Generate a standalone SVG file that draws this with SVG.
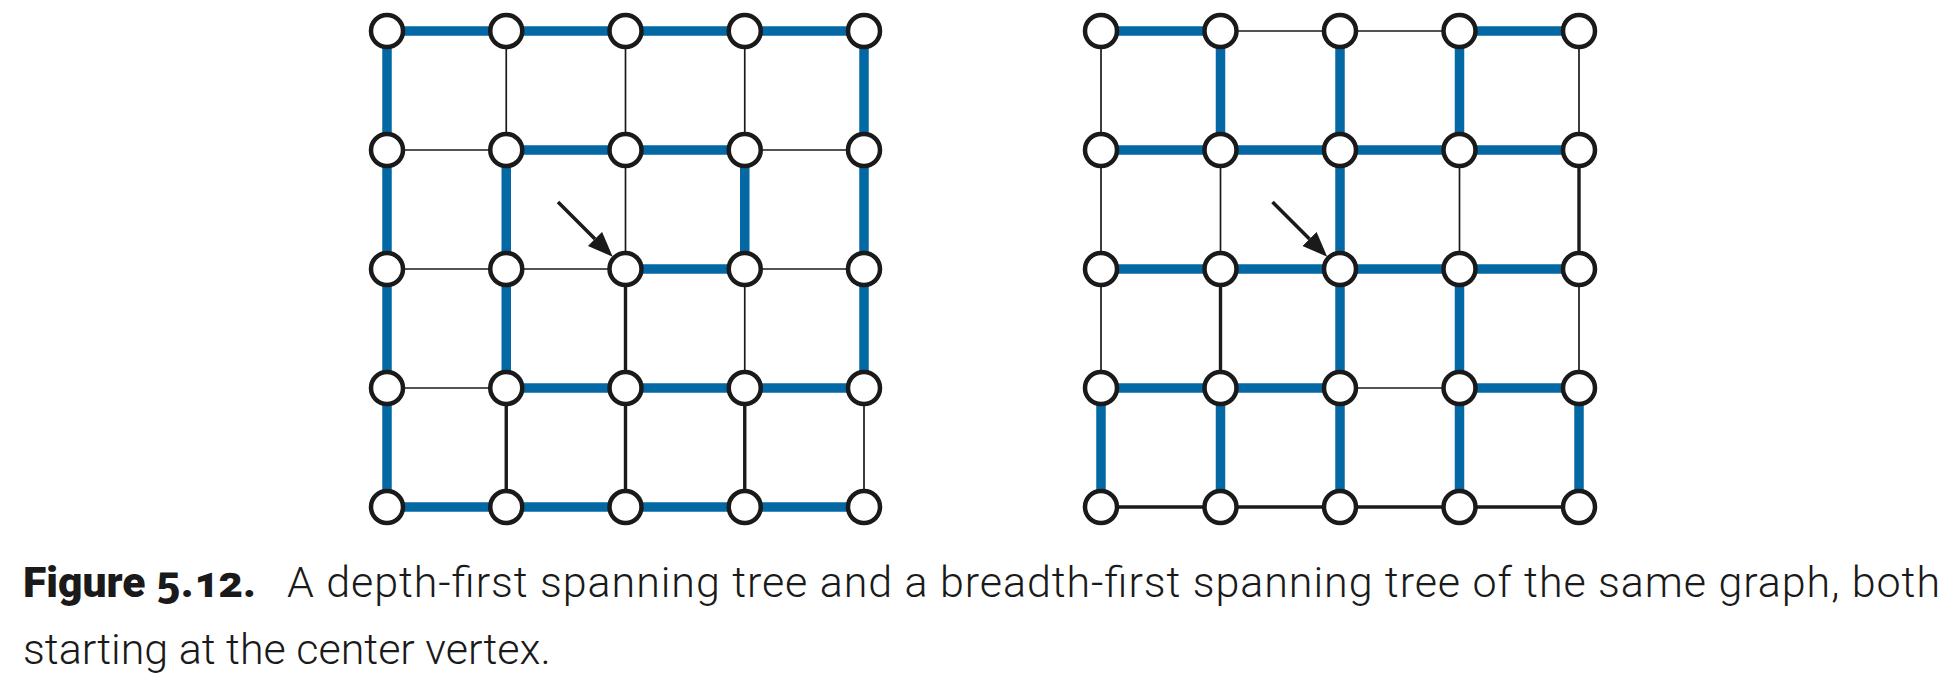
<svg xmlns="http://www.w3.org/2000/svg" width="1956" height="680" viewBox="0 0 1956 680">
<style>
.b{stroke:#0368a4;stroke-width:9.5;fill:none}
.t{stroke:#1a1a1a;stroke-width:1.7;fill:none}
.m{stroke:#1a1a1a;stroke-width:3.4;fill:none}
.n{fill:#ffffff;stroke:#1a1a1a;stroke-width:4.5}
.arr{stroke:#1a1a1a;stroke-width:3.5;fill:none}
.cap{font-family:Roboto,"Liberation Sans",sans-serif;font-size:43px;fill:#1a1a1a}
.capb{font-weight:900;font-variant-numeric:oldstyle-nums}
.capl{font-weight:300}
</style>
<defs>
<marker id="ah" markerUnits="userSpaceOnUse" markerWidth="26" markerHeight="22" refX="0" refY="10" orient="auto">
<path d="M0,0 L25,10 L0,20 z" fill="#1a1a1a"/>
</marker>
</defs>
<rect width="1956" height="680" fill="#ffffff"/>
<g id="connectors">
<!-- left grid horizontal -->
<line class="b" x1="387" y1="31" x2="864" y2="31"/>
<line class="t" x1="387" y1="150" x2="506.25" y2="150"/>
<line class="b" x1="506.25" y1="150" x2="744.75" y2="150"/>
<line class="t" x1="744.75" y1="150" x2="864" y2="150"/>
<line class="t" x1="387" y1="269" x2="625.5" y2="269"/>
<line class="b" x1="625.5" y1="269" x2="744.75" y2="269"/>
<line class="t" x1="744.75" y1="269" x2="864" y2="269"/>
<line class="t" x1="387" y1="388" x2="506.25" y2="388"/>
<line class="b" x1="506.25" y1="388" x2="864" y2="388"/>
<line class="b" x1="387" y1="507" x2="864" y2="507"/>
<!-- left grid vertical -->
<line class="b" x1="387" y1="31" x2="387" y2="507"/>
<line class="t" x1="506.25" y1="31" x2="506.25" y2="150"/>
<line class="b" x1="506.25" y1="150" x2="506.25" y2="388"/>
<line class="m" x1="506.25" y1="388" x2="506.25" y2="507"/>
<line class="t" x1="625.5" y1="31" x2="625.5" y2="269"/>
<line class="m" x1="625.5" y1="269" x2="625.5" y2="507"/>
<line class="t" x1="744.75" y1="31" x2="744.75" y2="150"/>
<line class="b" x1="744.75" y1="150" x2="744.75" y2="269"/>
<line class="t" x1="744.75" y1="269" x2="744.75" y2="388"/>
<line class="m" x1="744.75" y1="388" x2="744.75" y2="507"/>
<line class="b" x1="864" y1="31" x2="864" y2="388"/>
<line class="t" x1="864" y1="388" x2="864" y2="507"/>
<!-- right grid horizontal -->
<line class="b" x1="1101" y1="31" x2="1220.5" y2="31"/>
<line class="t" x1="1220.5" y1="31" x2="1459.5" y2="31"/>
<line class="b" x1="1459.5" y1="31" x2="1579" y2="31"/>
<line class="b" x1="1101" y1="150" x2="1579" y2="150"/>
<line class="b" x1="1101" y1="269" x2="1579" y2="269"/>
<line class="b" x1="1101" y1="388" x2="1340" y2="388"/>
<line class="t" x1="1340" y1="388" x2="1459.5" y2="388"/>
<line class="b" x1="1459.5" y1="388" x2="1579" y2="388"/>
<line class="m" x1="1101" y1="507" x2="1579" y2="507"/>
<!-- right grid vertical -->
<line class="t" x1="1101" y1="31" x2="1101" y2="388"/>
<line class="b" x1="1101" y1="388" x2="1101" y2="507"/>
<line class="b" x1="1220.5" y1="31" x2="1220.5" y2="150"/>
<line class="t" x1="1220.5" y1="150" x2="1220.5" y2="269"/>
<line class="m" x1="1220.5" y1="269" x2="1220.5" y2="388"/>
<line class="b" x1="1220.5" y1="388" x2="1220.5" y2="507"/>
<line class="b" x1="1340" y1="31" x2="1340" y2="507"/>
<line class="b" x1="1459.5" y1="31" x2="1459.5" y2="150"/>
<line class="t" x1="1459.5" y1="150" x2="1459.5" y2="269"/>
<line class="b" x1="1459.5" y1="269" x2="1459.5" y2="507"/>
<line class="t" x1="1579" y1="31" x2="1579" y2="150"/>
<line class="m" x1="1579" y1="150" x2="1579" y2="269"/>
<line class="t" x1="1579" y1="269" x2="1579" y2="388"/>
<line class="b" x1="1579" y1="388" x2="1579" y2="507"/>
<!-- arrows -->
<line class="arr" x1="558" y1="202" x2="595" y2="239" marker-end="url(#ah)"/>
<line class="arr" x1="1272.5" y1="202" x2="1309.5" y2="239" marker-end="url(#ah)"/>
</g>
<g id="left-nodes">
<g id="L00"><circle class="n" cx="387" cy="31" r="16"/></g>
<g id="L01"><circle class="n" cx="506.25" cy="31" r="16"/></g>
<g id="L02"><circle class="n" cx="625.5" cy="31" r="16"/></g>
<g id="L03"><circle class="n" cx="744.75" cy="31" r="16"/></g>
<g id="L04"><circle class="n" cx="864" cy="31" r="16"/></g>
<g id="L10"><circle class="n" cx="387" cy="150" r="16"/></g>
<g id="L11"><circle class="n" cx="506.25" cy="150" r="16"/></g>
<g id="L12"><circle class="n" cx="625.5" cy="150" r="16"/></g>
<g id="L13"><circle class="n" cx="744.75" cy="150" r="16"/></g>
<g id="L14"><circle class="n" cx="864" cy="150" r="16"/></g>
<g id="L20"><circle class="n" cx="387" cy="269" r="16"/></g>
<g id="L21"><circle class="n" cx="506.25" cy="269" r="16"/></g>
<g id="L22"><circle class="n" cx="625.5" cy="269" r="16"/></g>
<g id="L23"><circle class="n" cx="744.75" cy="269" r="16"/></g>
<g id="L24"><circle class="n" cx="864" cy="269" r="16"/></g>
<g id="L30"><circle class="n" cx="387" cy="388" r="16"/></g>
<g id="L31"><circle class="n" cx="506.25" cy="388" r="16"/></g>
<g id="L32"><circle class="n" cx="625.5" cy="388" r="16"/></g>
<g id="L33"><circle class="n" cx="744.75" cy="388" r="16"/></g>
<g id="L34"><circle class="n" cx="864" cy="388" r="16"/></g>
<g id="L40"><circle class="n" cx="387" cy="507" r="16"/></g>
<g id="L41"><circle class="n" cx="506.25" cy="507" r="16"/></g>
<g id="L42"><circle class="n" cx="625.5" cy="507" r="16"/></g>
<g id="L43"><circle class="n" cx="744.75" cy="507" r="16"/></g>
<g id="L44"><circle class="n" cx="864" cy="507" r="16"/></g>
</g>
<g id="right-nodes">
<g id="R00"><circle class="n" cx="1101" cy="31" r="16"/></g>
<g id="R01"><circle class="n" cx="1220.5" cy="31" r="16"/></g>
<g id="R02"><circle class="n" cx="1340" cy="31" r="16"/></g>
<g id="R03"><circle class="n" cx="1459.5" cy="31" r="16"/></g>
<g id="R04"><circle class="n" cx="1579" cy="31" r="16"/></g>
<g id="R10"><circle class="n" cx="1101" cy="150" r="16"/></g>
<g id="R11"><circle class="n" cx="1220.5" cy="150" r="16"/></g>
<g id="R12"><circle class="n" cx="1340" cy="150" r="16"/></g>
<g id="R13"><circle class="n" cx="1459.5" cy="150" r="16"/></g>
<g id="R14"><circle class="n" cx="1579" cy="150" r="16"/></g>
<g id="R20"><circle class="n" cx="1101" cy="269" r="16"/></g>
<g id="R21"><circle class="n" cx="1220.5" cy="269" r="16"/></g>
<g id="R22"><circle class="n" cx="1340" cy="269" r="16"/></g>
<g id="R23"><circle class="n" cx="1459.5" cy="269" r="16"/></g>
<g id="R24"><circle class="n" cx="1579" cy="269" r="16"/></g>
<g id="R30"><circle class="n" cx="1101" cy="388" r="16"/></g>
<g id="R31"><circle class="n" cx="1220.5" cy="388" r="16"/></g>
<g id="R32"><circle class="n" cx="1340" cy="388" r="16"/></g>
<g id="R33"><circle class="n" cx="1459.5" cy="388" r="16"/></g>
<g id="R34"><circle class="n" cx="1579" cy="388" r="16"/></g>
<g id="R40"><circle class="n" cx="1101" cy="507" r="16"/></g>
<g id="R41"><circle class="n" cx="1220.5" cy="507" r="16"/></g>
<g id="R42"><circle class="n" cx="1340" cy="507" r="16"/></g>
<g id="R43"><circle class="n" cx="1459.5" cy="507" r="16"/></g>
<g id="R44"><circle class="n" cx="1579" cy="507" r="16"/></g>
</g>
<g id="caption">
<text class="cap capb" x="23" y="597" textLength="233" lengthAdjust="spacingAndGlyphs">Figure 5.12.</text>
<text class="cap capl" x="287" y="597" textLength="1653" lengthAdjust="spacing">A depth-first spanning tree and a breadth-first spanning tree of the same graph, both</text>
<text class="cap capl" x="23" y="664">starting at the center vertex.</text>
</g>
</svg>
